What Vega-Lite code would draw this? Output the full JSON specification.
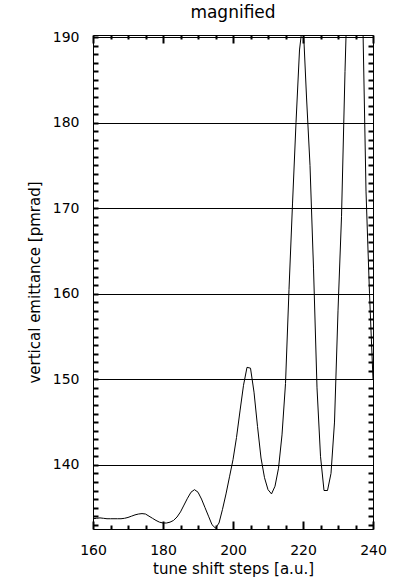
{
  "$schema": "https://vega.github.io/schema/vega-lite/v6.json",
  "width": 280,
  "height": 494,
  "autosize": "none",
  "padding": {"left": 93, "top": 35, "right": 32, "bottom": 55},
  "background": "white",
  "title": {"text": "magnified", "fontSize": 17, "font": "DejaVu Sans", "fontWeight": "normal", "color": "black", "offset": 8},
  "config": {
    "view": {"stroke": "black", "strokeWidth": 1},
    "axis": {"domain": false, "labelFlush": false, "labelOverlap": false, "labelFont": "DejaVu Sans", "titleFont": "DejaVu Sans", "labelColor": "black", "titleColor": "black", "gridColor": "black", "labelFontSize": 14, "titleFontSize": 15, "titleFontWeight": "normal"}
  },
  "data": {"values": [
    {"step": 160, "emit": 133.7}, {"step": 161, "emit": 133.75}, {"step": 162, "emit": 133.8}, {"step": 163, "emit": 133.75},
    {"step": 164, "emit": 133.7}, {"step": 165, "emit": 133.7}, {"step": 166, "emit": 133.7}, {"step": 167, "emit": 133.7},
    {"step": 168, "emit": 133.7}, {"step": 169, "emit": 133.75}, {"step": 170, "emit": 133.85}, {"step": 171, "emit": 134.0},
    {"step": 172, "emit": 134.15}, {"step": 173, "emit": 134.25}, {"step": 174, "emit": 134.3}, {"step": 175, "emit": 134.25},
    {"step": 176, "emit": 134.0}, {"step": 177, "emit": 133.75}, {"step": 178, "emit": 133.5}, {"step": 179, "emit": 133.3},
    {"step": 180, "emit": 133.2}, {"step": 181, "emit": 133.2}, {"step": 182, "emit": 133.3}, {"step": 183, "emit": 133.5},
    {"step": 184, "emit": 133.9}, {"step": 185, "emit": 134.5}, {"step": 186, "emit": 135.3}, {"step": 187, "emit": 136.1},
    {"step": 188, "emit": 136.8}, {"step": 189, "emit": 137.1}, {"step": 190, "emit": 136.8}, {"step": 191, "emit": 136.0},
    {"step": 192, "emit": 135.0}, {"step": 193, "emit": 134.0}, {"step": 194, "emit": 133.0}, {"step": 195, "emit": 132.6},
    {"step": 196, "emit": 133.2}, {"step": 197, "emit": 134.8}, {"step": 198, "emit": 136.6}, {"step": 199, "emit": 138.6},
    {"step": 200, "emit": 140.6}, {"step": 201, "emit": 143.2}, {"step": 202, "emit": 146.3}, {"step": 203, "emit": 149.3},
    {"step": 204, "emit": 151.4}, {"step": 205, "emit": 151.3}, {"step": 206, "emit": 148.5}, {"step": 207, "emit": 144.5},
    {"step": 208, "emit": 140.8}, {"step": 209, "emit": 138.5}, {"step": 210, "emit": 137.1}, {"step": 211, "emit": 136.6},
    {"step": 212, "emit": 137.5}, {"step": 213, "emit": 139.6}, {"step": 214, "emit": 143.5}, {"step": 215, "emit": 149.5},
    {"step": 216, "emit": 160.5}, {"step": 217, "emit": 170.5}, {"step": 218, "emit": 180.0}, {"step": 219, "emit": 188.5},
    {"step": 220, "emit": 192.0}, {"step": 221, "emit": 183.0}, {"step": 222, "emit": 175.0}, {"step": 223, "emit": 163.0},
    {"step": 224, "emit": 149.0}, {"step": 225, "emit": 141.0}, {"step": 226, "emit": 137.0}, {"step": 227, "emit": 137.0},
    {"step": 228, "emit": 139.0}, {"step": 229, "emit": 145.0}, {"step": 230, "emit": 158.0}, {"step": 231, "emit": 169.0},
    {"step": 232, "emit": 186.0}, {"step": 233, "emit": 200.0}, {"step": 234, "emit": 210.0}, {"step": 235, "emit": 215.0},
    {"step": 236, "emit": 212.0}, {"step": 237, "emit": 194.0}, {"step": 238, "emit": 172.0}, {"step": 239, "emit": 160.0},
    {"step": 240, "emit": 150.0}
  ]},
  "resolve": {"axis": {"x": "independent", "y": "independent"}},
  "layer": [
    {
      "mark": {"type": "line", "color": "black", "strokeWidth": 1, "clip": true},
      "encoding": {
        "x": {"field": "step", "type": "quantitative", "scale": {"domain": [160, 240], "nice": false, "zero": false},
          "axis": {"orient": "bottom", "values": [160, 180, 200, 220, 240],
            "ticks": true, "tickSize": -8, "tickColor": "#000000", "tickWidth": 2,
            "grid": false, "labelPadding": 22, "title": "tune shift steps [a.u.]", "titlePadding": 4}},
        "y": {"field": "emit", "type": "quantitative", "scale": {"domain": [132.5, 190.25], "nice": false, "zero": false},
          "axis": {"orient": "left", "values": [133, 134, 135, 136, 137, 138, 139, 140, 141, 142, 143, 144, 145, 146, 147, 148, 149, 150, 151, 152, 153, 154, 155, 156, 157, 158, 159, 160, 161, 162, 163, 164, 165, 166, 167, 168, 169, 170, 171, 172, 173, 174, 175, 176, 177, 178, 179, 180, 181, 182, 183, 184, 185, 186, 187, 188, 189, 190],
            "labelExpr": "datum.value % 10 === 0 ? datum.label : ''",
            "ticks": true, "tickSize": -5, "tickColor": "#000000", "tickWidth": 2,
            "grid": true, "gridOpacity": {"condition": {"test": "datum.value % 10 === 0", "value": 1}, "value": 0},
            "labelPadding": 19, "title": "vertical emittance [pmrad]", "titlePadding": 10}}
      }
    },
    {
      "mark": {"type": "line", "strokeOpacity": 0, "clip": true},
      "encoding": {
        "x": {"field": "step", "type": "quantitative",
          "axis": {"orient": "bottom", "values": [165, 170, 175, 185, 190, 195, 205, 210, 215, 225, 230, 235], "labels": false, "grid": false, "title": null, "ticks": true, "tickSize": -4, "tickColor": "#000000", "tickWidth": 2}},
        "y": {"field": "emit", "type": "quantitative",
          "axis": {"orient": "right", "values": [133, 134, 135, 136, 137, 138, 139, 141, 142, 143, 144, 145, 146, 147, 148, 149, 151, 152, 153, 154, 155, 156, 157, 158, 159, 161, 162, 163, 164, 165, 166, 167, 168, 169, 171, 172, 173, 174, 175, 176, 177, 178, 179, 181, 182, 183, 184, 185, 186, 187, 188, 189], "labels": false, "grid": false, "title": null, "ticks": true, "tickSize": -5, "tickColor": "#000000", "tickWidth": 2}}
      }
    },
    {
      "mark": {"type": "line", "strokeOpacity": 0, "clip": true},
      "encoding": {
        "x": {"field": "step", "type": "quantitative",
          "axis": {"orient": "top", "values": [160, 180, 200, 220, 240], "labels": false, "grid": false, "title": null, "ticks": true, "tickSize": -8, "tickColor": "#000000", "tickWidth": 2}},
        "y": {"field": "emit", "type": "quantitative", "axis": null}
      }
    },
    {
      "mark": {"type": "line", "strokeOpacity": 0, "clip": true},
      "encoding": {
        "x": {"field": "step", "type": "quantitative",
          "axis": {"orient": "top", "values": [165, 170, 175, 185, 190, 195, 205, 210, 215, 225, 230, 235], "labels": false, "grid": false, "title": null, "ticks": true, "tickSize": -4, "tickColor": "#000000", "tickWidth": 2}},
        "y": {"field": "emit", "type": "quantitative", "axis": null}
      }
    }
  ]
}
